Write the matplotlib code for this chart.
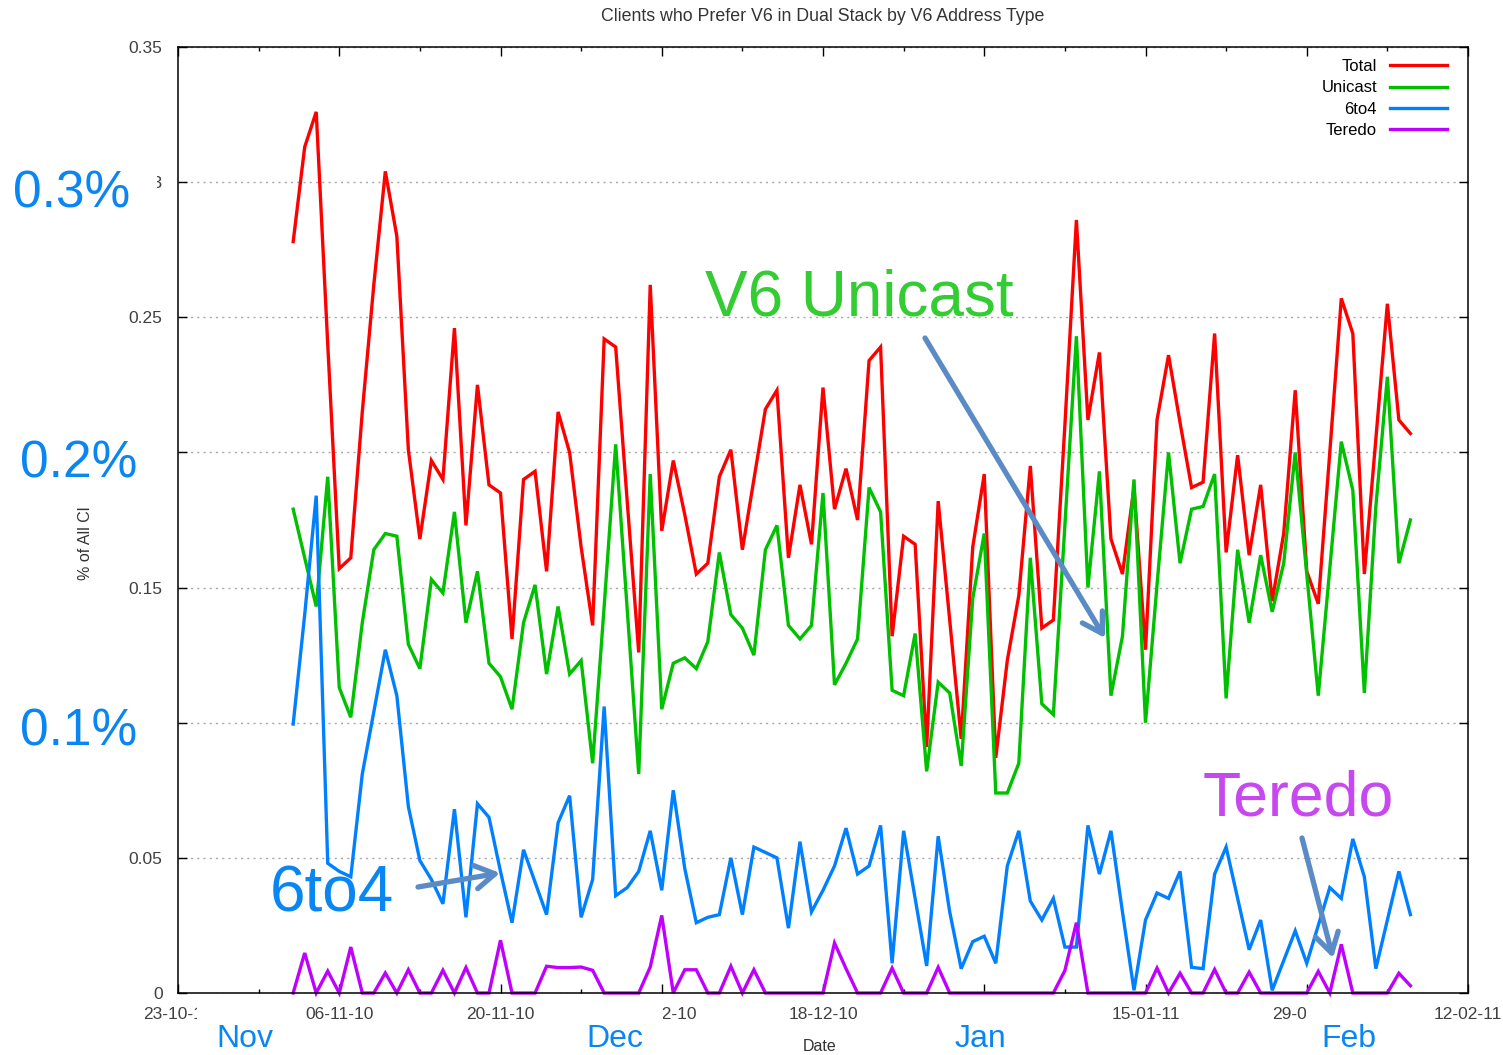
import numpy as np
import pandas as pd
import matplotlib
matplotlib.use('Agg')
import matplotlib.pyplot as plt
from matplotlib.patches import Rectangle, FancyArrowPatch
from matplotlib.ticker import FixedLocator, FixedFormatter

plt.rcParams['font.family'] = ['Liberation Sans', 'DejaVu Sans']

# daily samples, 2010-11-02 .. 2011-02-07 (% of all clients)
dates = pd.date_range('2010-11-02', '2011-02-07', freq='D')

total = [
    0.278, 0.313, 0.326, 0.240, 0.157, 0.161, 0.215, 0.262, 0.304, 0.280,
    0.201, 0.168, 0.197, 0.190, 0.246, 0.173, 0.225, 0.188, 0.185, 0.131,
    0.190, 0.193, 0.156, 0.215, 0.200, 0.165, 0.136, 0.242, 0.239, 0.182,
    0.126, 0.262, 0.171, 0.197, 0.177, 0.155, 0.159, 0.191, 0.201, 0.164,
    0.190, 0.216, 0.223, 0.161, 0.188, 0.166, 0.224, 0.179, 0.194, 0.175,
    0.234, 0.239, 0.132, 0.169, 0.166, 0.091, 0.182, 0.138, 0.094, 0.165,
    0.192, 0.087, 0.123, 0.147, 0.195, 0.135, 0.138, 0.210, 0.286, 0.212,
    0.237, 0.168, 0.155, 0.187, 0.127, 0.212, 0.236, 0.211, 0.187, 0.189,
    0.244, 0.163, 0.199, 0.162, 0.188, 0.145, 0.170, 0.223, 0.156, 0.144,
    0.200, 0.257, 0.244, 0.155, 0.205, 0.255, 0.212, 0.207,
]
unicast = [
    0.179, 0.161, 0.143, 0.191, 0.113, 0.102, 0.137, 0.164, 0.170, 0.169,
    0.129, 0.120, 0.153, 0.148, 0.178, 0.137, 0.156, 0.122, 0.117, 0.105,
    0.137, 0.151, 0.118, 0.143, 0.118, 0.123, 0.085, 0.143, 0.203, 0.142,
    0.081, 0.192, 0.105, 0.122, 0.124, 0.120, 0.130, 0.163, 0.140, 0.135,
    0.125, 0.164, 0.173, 0.136, 0.131, 0.136, 0.185, 0.114, 0.122, 0.131,
    0.187, 0.178, 0.112, 0.110, 0.133, 0.082, 0.115, 0.111, 0.084, 0.146,
    0.170, 0.074, 0.074, 0.085, 0.161, 0.107, 0.103, 0.173, 0.243, 0.150,
    0.193, 0.110, 0.132, 0.190, 0.100, 0.151, 0.200, 0.159, 0.179, 0.180,
    0.192, 0.109, 0.164, 0.137, 0.162, 0.141, 0.159, 0.200, 0.155, 0.110,
    0.157, 0.204, 0.186, 0.111, 0.180, 0.228, 0.159, 0.175,
]
sixto4 = [
    0.0995, 0.140, 0.184, 0.048, 0.045, 0.043, 0.081, 0.104, 0.127, 0.110,
    0.069, 0.049, 0.042, 0.033, 0.068, 0.028, 0.070, 0.065, 0.045, 0.026,
    0.053, 0.041, 0.029, 0.063, 0.073, 0.028, 0.042, 0.106, 0.036, 0.039,
    0.045, 0.060, 0.038, 0.075, 0.046, 0.026, 0.028, 0.029, 0.050, 0.029,
    0.054, 0.052, 0.050, 0.024, 0.056, 0.030, 0.038, 0.047, 0.061, 0.044,
    0.047, 0.062, 0.011, 0.060, 0.035, 0.010, 0.058, 0.030, 0.009, 0.019,
    0.021, 0.011, 0.047, 0.060, 0.034, 0.027, 0.035, 0.017, 0.017, 0.062,
    0.044, 0.060, 0.030, 0.001, 0.027, 0.037, 0.035, 0.045, 0.0095, 0.009,
    0.044, 0.054, 0.035, 0.016, 0.027, 0.001, 0.012, 0.023, 0.011, 0.025,
    0.039, 0.035, 0.057, 0.043, 0.009, 0.027, 0.045, 0.029,
]
teredo = [
    0, 0.0148, 0, 0.0081, 0, 0.017, 0, 0, 0.0074, 0,
    0.0086, 0, 0, 0.0084, 0, 0.0094, 0, 0, 0.0195, 0,
    0, 0, 0.0099, 0.0094, 0.0094, 0.0096, 0.0084, 0, 0, 0,
    0, 0.0096, 0.0287, 0, 0.0086, 0.0086, 0, 0, 0.0099, 0,
    0.0086, 0, 0, 0, 0, 0, 0, 0.0185, 0.009, 0,
    0, 0, 0.0092, 0, 0, 0, 0.0095, 0, 0, 0,
    0, 0, 0, 0, 0, 0, 0, 0.0083, 0.026, 0,
    0, 0, 0, 0, 0, 0.0092, 0, 0.0073, 0, 0,
    0.0087, 0, 0, 0.0077, 0, 0, 0, 0, 0, 0.008,
    0, 0.018, 0, 0, 0, 0, 0.0073, 0.0027,
]

series_names = ['Total', 'Unicast', '6to4', 'Teredo']
series_colors = ['#ff0000', '#00c000', '#0080ff', '#c000ff']

major_dates = pd.date_range('2010-10-23', '2011-02-12', freq='14D')
minor_dates = pd.date_range('2010-10-23', '2011-02-12', freq='7D')
y_ticks = [0, 0.05, 0.1, 0.15, 0.2, 0.25, 0.3, 0.35]
y_labels = ['0', '0.05', '0.1', '0.15', '0.2', '0.25', '0.3', '0.35']

W, H = 1503, 1055
fig = plt.figure(figsize=(W / 100, H / 100), dpi=100)
ax = fig.add_axes([178 / W, 1 - 993 / H, 1290 / W, 946 / H])

for vals, name, col in zip([total, unicast, sixto4, teredo], series_names, series_colors):
    ax.plot(dates, vals, color=col, lw=2.4, label=name, clip_on=False, solid_joinstyle='miter')

ax.set_xlim(major_dates[0], major_dates[-1])
ax.set_ylim(0, 0.35)
ax.xaxis.set_major_locator(FixedLocator(matplotlib.dates.date2num(major_dates)))
ax.xaxis.set_major_formatter(FixedFormatter([d.strftime('%d-%m-%y') for d in major_dates]))
ax.xaxis.set_minor_locator(FixedLocator(matplotlib.dates.date2num(minor_dates)))
ax.yaxis.set_major_locator(FixedLocator(y_ticks))
ax.yaxis.set_major_formatter(FixedFormatter(y_labels))

ax.tick_params(which='both', direction='in', top=True, right=True, colors='black',
               labelcolor='#404040', labelsize=12.5, width=1)
ax.tick_params(which='major', length=6.5)
ax.tick_params(which='minor', length=3.2)
ax.tick_params(axis='y', pad=11)
ax.tick_params(axis='x', pad=10)
for sp in ax.spines.values():
    sp.set_linewidth(1.1)
ax.yaxis.grid(True, linestyle=(0, (1.5, 3)), color='#a8a8a8', lw=1)

ax.set_title('Clients who Prefer V6 in Dual Stack by V6 Address Type',
             fontsize=12.8, color='#333333', pad=19)
# only the start of the y label shows; the rest sits under the "0.2%" box
fig.text(86 / W, 1 - 580 / H, '% of All Cl', rotation=90, ha='center', va='bottom',
         fontsize=11.5, color='#333333')
fig.text(820 / W, 1 - 1051 / H, 'Date', ha='center', va='baseline', fontsize=11.5, color='#333333')

ax.legend(loc='upper right', bbox_to_anchor=((1447 - 178) / 1290, 1 - 12 / 946),
          frameon=False, markerfirst=False, fontsize=12, handlelength=3.4,
          handletextpad=0.8, labelspacing=0.38, borderpad=0, borderaxespad=0)


# ---- slide overlays (pixel positions on the 1503x1055 canvas) ----
def fpos(x, y):
    return x / W, 1 - y / H


def white_box(x0, y0, x1, y1):
    fig.add_artist(Rectangle(fpos(x0, y1), (x1 - x0) / W, (y1 - y0) / H,
                             transform=fig.transFigure, facecolor='white',
                             edgecolor='none', zorder=5))


def note(x, y, s, color, size):
    fig.text(*fpos(x, y), s, color=color, fontsize=size, ha='left', va='baseline', zorder=6)


def arrow(x0, y0, x1, y1):
    fig.add_artist(FancyArrowPatch(fpos(x0, y0), fpos(x1, y1), transform=fig.transFigure,
                                   arrowstyle='->,head_length=0.7,head_width=0.42',
                                   mutation_scale=20, lw=3.8, color='#5b8bc5',
                                   shrinkA=0, shrinkB=0, zorder=6))


blue_txt = '#0a86f2'
white_box(4, 158, 157, 214)
white_box(10, 425, 166, 495)
white_box(10, 690, 166, 760)
white_box(197, 1003, 290, 1055)
white_box(578, 1003, 663, 1055)
white_box(940, 1003, 1025, 1055)
white_box(1306, 1003, 1395, 1055)

note(13, 207, '0.3%', blue_txt, 37)
note(20, 478, '0.2%', blue_txt, 37)
note(20, 745, '0.1%', blue_txt, 37)
note(216, 1047, 'Nov', blue_txt, 23)
note(586, 1047, 'Dec', blue_txt, 23)
note(955, 1047, 'Jan', blue_txt, 23)
note(1321, 1047, 'Feb', blue_txt, 23)
note(705, 316, 'V6 Unicast', '#33cc33', 46)
note(270, 912, '6to4', blue_txt, 46)
note(1203, 815, 'Teredo', '#c848f0', 45)

arrow(925, 338, 1105, 638)
arrow(418, 887, 500, 873)
arrow(1302, 838, 1333, 958)

fig.savefig('out.png', dpi=100)
